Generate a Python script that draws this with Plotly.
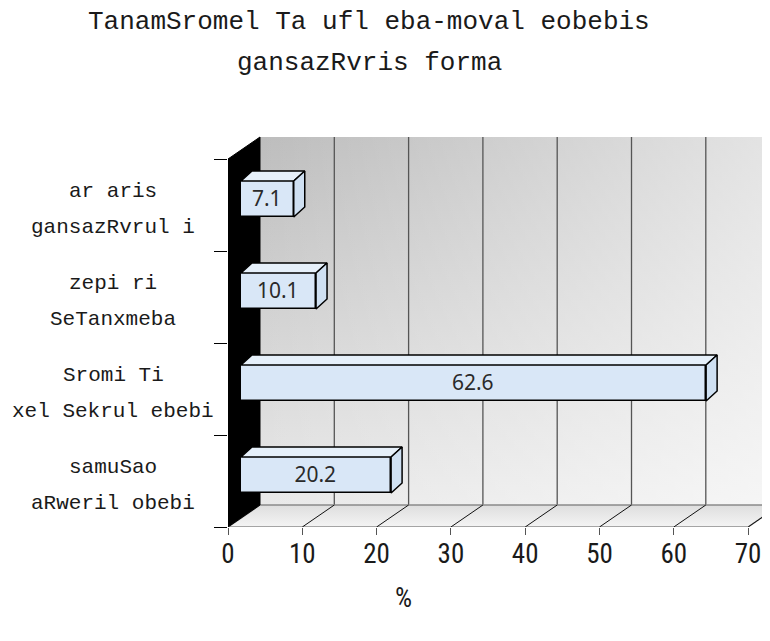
import plotly.graph_objects as go

# ---------------- data ----------------
title_lines = ["TanamSromel Ta ufl eba-moval eobebis", "gansazRvris forma"]
# categories bottom -> top, each as two display lines
cat_line1 = ["samuSao", "Sromi Ti", "zepi ri", "ar aris"]
cat_line2 = ["aRweril obebi", "xel Sekrul ebebi", "SeTanxmeba", "gansazRvrul i"]
values = [20.2, 62.6, 10.1, 7.1]
x_ticks = [0, 10, 20, 30, 40, 50, 60, 70]
x_title = "%"

# ---------------- geometry (styles / layout) ----------------
W, H = 770, 641
PAGE = 8                      # default page body margin in the browser
left_px = 228 - PAGE
top_px = 136 - PAGE
bottom_px = 527 - PAGE
px_x = 7.43                   # pixels per % unit
px_y = 92.0                   # pixels per category
x_max = (W - left_px) / px_x
y_lo = -0.5
y_hi = y_lo + (bottom_px - top_px) / px_y
n = len(values)
y_top_front = y_lo + n
dx = 32 / px_x                # depth vector in data units
dy = 22 / px_y
bar_off_x = 13 / px_x
bar_off_y = 6 / px_y
bar_w = 36 / px_y
bar_dx = 11 / px_x
bar_dy = 10 / px_y
x_end = x_ticks[-1]

fig = go.Figure()

# back wall (vertical gradient + horizontal lightening)
wall_x = [dx, x_end + dx + 5, x_end + dx + 5, dx, dx]
wall_y = [y_lo + dy, y_lo + dy, y_top_front + dy, y_top_front + dy, y_lo + dy]
fig.add_trace(go.Scatter(x=wall_x, y=wall_y, mode="lines", fill="toself",
                         line=dict(width=0, color="rgba(0,0,0,0)"),
                         fillgradient=dict(type="vertical",
                                           colorscale=[[0, "#e9e9e9"], [1, "#bdbdbd"]]),
                         hoverinfo="skip", showlegend=False))
fig.add_trace(go.Scatter(x=wall_x, y=wall_y, mode="lines", fill="toself",
                         line=dict(width=0, color="rgba(0,0,0,0)"),
                         fillgradient=dict(type="horizontal", start=dx, stop=x_end + dx,
                                           colorscale=[[0, "rgba(255,255,255,0)"],
                                                       [1, "rgba(255,255,255,0.6)"]]),
                         hoverinfo="skip", showlegend=False))

# gridlines on back wall
gx, gy = [], []
for t in x_ticks[1:]:
    gx += [t + dx, t + dx, None]
    gy += [y_lo + dy, y_top_front + dy, None]
fig.add_trace(go.Scatter(x=gx, y=gy, mode="lines", line=dict(color="#555555", width=1.3),
                         hoverinfo="skip", showlegend=False))

# floor
floor_x = [0, x_end, x_end + dx, dx, 0]
floor_y = [y_lo, y_lo, y_lo + dy, y_lo + dy, y_lo]
fig.add_trace(go.Scatter(x=floor_x, y=floor_y, mode="lines", fill="toself",
                         line=dict(color="#8a8a8a", width=1.5),
                         fillgradient=dict(type="vertical",
                                           colorscale=[[0, "#f4f4f4"], [1, "#dedede"]]),
                         hoverinfo="skip", showlegend=False))
fx, fy = [], []
for t in x_ticks[1:]:
    fx += [t, t + dx, None]
    fy += [y_lo, y_lo + dy, None]
fig.add_trace(go.Scatter(x=fx, y=fy, mode="lines", line=dict(color="#111111", width=1),
                         hoverinfo="skip", showlegend=False))

# left wall (black)
fig.add_trace(go.Scatter(x=[0, 0, dx, dx, 0],
                         y=[y_lo, y_top_front, y_top_front + dy, y_lo + dy, y_lo],
                         mode="lines", fill="toself", fillcolor="#000000",
                         line=dict(color="#000000", width=1),
                         hoverinfo="skip", showlegend=False))

# ---------------- bars (overlay axes) ----------------
ys = [i + bar_off_y for i in range(n)]
for i, v in enumerate(values):
    yt = ys[i] + bar_w / 2
    yb = ys[i] - bar_w / 2
    x0 = bar_off_x
    x1 = bar_off_x + v
    # top face
    fig.add_trace(go.Scatter(x=[x0, x1, x1 + bar_dx, x0 + bar_dx, x0],
                             y=[yt, yt, yt + bar_dy, yt + bar_dy, yt],
                             mode="lines", fill="toself", fillcolor="#e6f0fa",
                             line=dict(color="#000000", width=1.5),
                             xaxis="x2", yaxis="y2", hoverinfo="skip", showlegend=False))
    # side face
    fig.add_trace(go.Scatter(x=[x1, x1 + bar_dx, x1 + bar_dx, x1, x1],
                             y=[yt, yt + bar_dy, yb + bar_dy, yb, yt],
                             mode="lines", fill="toself", fillcolor="#cfe0f2",
                             line=dict(color="#000000", width=1.5),
                             xaxis="x2", yaxis="y2", hoverinfo="skip", showlegend=False))

fig.add_trace(go.Bar(
    x=values, y=ys, base=bar_off_x, orientation="h", width=bar_w,
    marker=dict(color="#d9e7f7", line=dict(color="#000000", width=1.5)),
    text=[f"{v:.1f}" for v in values], textposition="inside",
    insidetextanchor="middle", textangle=0, constraintext="none",
    textfont=dict(family="Noto Sans, DejaVu Sans, sans-serif", size=21, color="#2a2a2a"),
    xaxis="x2", yaxis="y2", hoverinfo="skip", showlegend=False))

# ---------------- annotations ----------------
ann = []
title_font = dict(family="Liberation Mono, DejaVu Sans Mono, monospace", size=26, color="#1a1a1a")
cx = (369 - PAGE - left_px) / (W - left_px)
ann.append(dict(text=title_lines[0], xref="paper", yref="paper", x=cx, y=1,
                xanchor="center", yanchor="middle", yshift=(top_px + PAGE) - 22,
                showarrow=False, font=title_font))
ann.append(dict(text=title_lines[1], xref="paper", yref="paper", x=cx, y=1,
                xanchor="center", yanchor="middle", yshift=(top_px + PAGE) - 63,
                showarrow=False, font=title_font))
lab_font = dict(family="Liberation Mono, DejaVu Sans Mono, monospace", size=21, color="#1a1a1a")
for i in range(n):
    ann.append(dict(text=cat_line1[i], xref="paper", yref="y", x=0, y=i,
                    xanchor="center", yanchor="middle", xshift=-(228 - 113), yshift=14,
                    showarrow=False, font=lab_font))
    ann.append(dict(text=cat_line2[i], xref="paper", yref="y", x=0, y=i,
                    xanchor="center", yanchor="middle", xshift=-(228 - 113), yshift=-22,
                    showarrow=False, font=lab_font))
tick_font = dict(family="Liberation Sans Narrow, Roboto Condensed, Roboto, sans-serif",
                 size=27, color="#1a1a1a")
ann.append(dict(text=x_title, xref="paper", yref="paper",
                x=(403 - PAGE - left_px) / (W - left_px), y=0, xanchor="center",
                yanchor="middle", yshift=-(598 - 527), showarrow=False, font=tick_font))

fig.update_layout(
    width=W, height=H,
    margin=dict(l=left_px, r=0, t=top_px, b=H - bottom_px, pad=0, autoexpand=False),
    paper_bgcolor="white", plot_bgcolor="white",
    showlegend=False, annotations=ann,
    xaxis=dict(range=[0, x_max], tickvals=x_ticks, ticktext=[str(t) for t in x_ticks],
               ticks="outside", ticklen=7, tickcolor="#555555", tickwidth=1.3,
               ticklabelstandoff=-4,
               showgrid=False, zeroline=False, showline=False, tickfont=tick_font,
               automargin=False, fixedrange=True),
    yaxis=dict(range=[y_lo, y_hi], tickvals=[y_lo + k for k in range(n + 1)],
               ticktext=[""] * (n + 1), ticks="outside", ticklen=13, tickcolor="#000000",
               tickwidth=1, showgrid=False, zeroline=False, showline=False,
               automargin=False, fixedrange=True),
    xaxis2=dict(range=[0, x_max], overlaying="x", visible=False, fixedrange=True),
    yaxis2=dict(range=[y_lo, y_hi], overlaying="y", visible=False, fixedrange=True),
    bargap=0,
)

fig.write_html("out.html")
